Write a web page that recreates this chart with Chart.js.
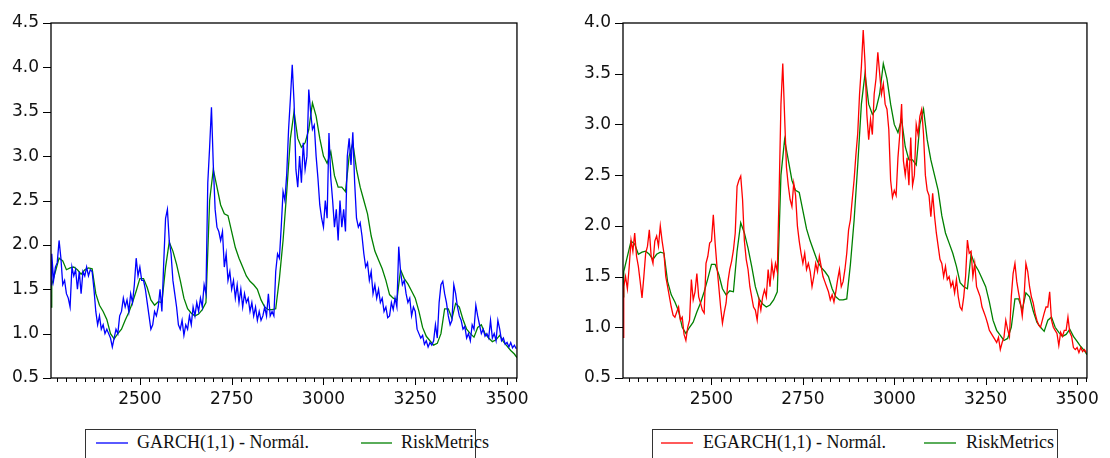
<!DOCTYPE html>
<html>
<head>
<meta charset="utf-8">
<script src="https://cdn.jsdelivr.net/npm/chart.js@4.4.1/dist/chart.umd.min.js"></script>
<style>
  html, body { margin: 0; padding: 0; background: #fff; overflow: hidden; }
  body { width: 1110px; height: 458px; position: relative; }
  canvas { position: absolute; top: 0; }
  #leftChart { left: 0; }
  #rightChart { left: 560px; }
  .legend { position: absolute; top: 429px; height: 60px; border: 1px solid #333; box-sizing: border-box;
            font-family: "Liberation Serif", "Times New Roman", serif; font-size: 18px; color: #111; }
  .legend svg { position: absolute; top: 10px; width: 34px; height: 6px; }
  .legend .tx { position: absolute; top: 3px; line-height: 18px; white-space: nowrap; }
</style>
</head>
<body>
<canvas id="leftChart" width="540" height="420"></canvas>
<canvas id="rightChart" width="550" height="420"></canvas>

<div class="legend" style="left:85px; width:391px;">
  <svg style="left:9px;"><line x1="1" y1="3" x2="33" y2="3" stroke="#0000ff" stroke-width="1.3"/></svg>
  <div class="tx" style="left:51px;">GARCH(1,1) - Normál.</div>
  <svg style="left:274px;"><line x1="1" y1="3" x2="32" y2="3" stroke="#008000" stroke-width="1.3"/></svg>
  <div class="tx" style="left:315px;">RiskMetrics</div>
</div>
<div class="legend" style="left:652px; width:406px;">
  <svg style="left:7px;"><line x1="1" y1="3" x2="33" y2="3" stroke="#ff0000" stroke-width="1.3"/></svg>
  <div class="tx" style="left:50px;">EGARCH(1,1) - Normál.</div>
  <svg style="left:270px;"><line x1="1" y1="3" x2="33" y2="3" stroke="#008000" stroke-width="1.3"/></svg>
  <div class="tx" style="left:313px;">RiskMetrics</div>
</div>

<script>
// observation index for the GARCH / EGARCH series (x axis)
const days = [2258,
  2260, 2265, 2270, 2275, 2280, 2285, 2290, 2295, 2300, 2305,
  2310, 2315, 2320, 2325, 2330, 2335, 2340, 2345, 2350, 2355,
  2360, 2365, 2370, 2375, 2380, 2385, 2390, 2395, 2400, 2405,
  2410, 2415, 2420, 2425, 2430, 2435, 2440, 2445, 2450, 2455,
  2460, 2465, 2470, 2475, 2480, 2485, 2490, 2495, 2500, 2505,
  2510, 2515, 2520, 2525, 2530, 2535, 2540, 2545, 2550, 2555,
  2560, 2565, 2570, 2575, 2580, 2585, 2590, 2595, 2600, 2605,
  2610, 2615, 2620, 2625, 2630, 2635, 2640, 2645, 2650, 2655,
  2660, 2665, 2670, 2675, 2680, 2685, 2690, 2695, 2700, 2705,
  2710, 2715, 2720, 2725, 2730, 2735, 2740, 2745, 2750, 2755,
  2760, 2765, 2770, 2775, 2780, 2785, 2790, 2795, 2800, 2805,
  2810, 2815, 2820, 2825, 2830, 2835, 2840, 2845, 2850, 2855,
  2860, 2865, 2870, 2875, 2880, 2885, 2890, 2895, 2900, 2905,
  2910, 2915, 2920, 2925, 2930, 2935, 2940, 2945, 2950, 2955,
  2960, 2965, 2970, 2975, 2980, 2985, 2990, 2995, 3000, 3005,
  3010, 3015, 3020, 3025, 3030, 3035, 3040, 3045, 3050, 3055,
  3060, 3065, 3070, 3075, 3080, 3085, 3090, 3095, 3100, 3105,
  3110, 3115, 3120, 3125, 3130, 3135, 3140, 3145, 3150, 3155,
  3160, 3165, 3170, 3175, 3180, 3185, 3190, 3195, 3200, 3205,
  3210, 3215, 3220, 3225, 3230, 3235, 3240, 3245, 3250, 3255,
  3260, 3265, 3270, 3275, 3280, 3285, 3290, 3295, 3300, 3305,
  3310, 3315, 3320, 3325, 3330, 3335, 3340, 3345, 3350, 3355,
  3360, 3365, 3370, 3375, 3380, 3385, 3390, 3395, 3400, 3405,
  3410, 3415, 3420, 3425, 3430, 3435, 3440, 3445, 3450, 3455,
  3460, 3465, 3470, 3475, 3480, 3485, 3490, 3495, 3500, 3505,
  3510, 3515, 3520, 3525];

// GARCH(1,1) - Normal volatility
const garch = [1.55,
  1.9, 1.6, 1.75, 1.8, 2.05, 1.85, 1.55, 1.6, 1.45, 1.4,
  1.3, 1.75, 1.65, 1.72, 1.5, 1.7, 1.45, 1.7, 1.65, 1.75,
  1.65, 1.72, 1.7, 1.5, 1.25, 1.1, 1.2, 1.05, 1.1, 1.0,
  1.05, 1.0, 0.95, 0.85, 0.95, 1.05, 1.0, 1.2, 1.25, 1.4,
  1.3, 1.38, 1.25, 1.45, 1.35, 1.55, 1.85, 1.65, 1.75, 1.6,
  1.6, 1.5, 1.35, 1.2, 1.05, 1.1, 1.25, 1.2, 1.3, 1.5,
  1.25, 1.8, 2.3, 2.4, 2.05, 1.9, 1.6, 1.45, 1.3, 1.1,
  1.05, 1.15, 0.98, 1.1, 1.05, 1.2, 1.1, 1.3, 1.2, 1.35,
  1.25, 1.4, 1.3, 1.55, 1.45, 2.7, 3.1, 3.55, 2.9, 2.4,
  2.2, 2.15, 2.05, 2.15, 1.75, 1.9, 1.6, 1.7, 1.5, 1.6,
  1.4, 1.55, 1.35, 1.5, 1.3, 1.45, 1.35, 1.4, 1.25, 1.35,
  1.2, 1.3, 1.15, 1.25, 1.15, 1.2, 1.3, 1.2, 1.45, 1.2,
  1.25, 1.2, 1.7, 1.9, 1.85, 2.2, 2.6, 2.5, 2.8, 3.3,
  3.65, 4.03, 3.6, 2.85, 2.65, 3.0, 2.7, 3.15, 2.85, 3.0,
  3.75, 3.5, 3.3, 3.35, 3.0, 2.75, 2.45, 2.3, 2.2, 2.5,
  2.3, 3.26, 2.75, 2.5, 2.2, 2.4, 2.05, 2.5, 2.2, 2.4,
  2.15, 3.0, 3.2, 2.9, 3.27, 2.7, 2.3, 2.2, 2.25, 2.1,
  1.9, 1.75, 1.8, 1.6, 1.7, 1.45, 1.55, 1.4, 1.5, 1.35,
  1.4, 1.25, 1.3, 1.18, 1.2, 1.35, 1.27, 1.4, 1.3, 1.98,
  1.7, 1.55, 1.6, 1.45, 1.35, 1.4, 1.2, 1.3, 1.25, 1.05,
  1.0, 0.95, 0.98, 0.88, 0.92, 0.85, 0.9, 0.87, 0.92, 1.1,
  0.95, 1.35, 1.55, 1.59, 1.45, 1.35, 1.2, 1.1, 1.15, 1.55,
  1.45, 1.3, 1.2, 1.15, 1.05, 1.08, 0.95, 1.0, 0.92, 1.1,
  1.05, 1.32, 1.2, 1.1, 1.0, 1.05, 0.97, 1.0, 0.95, 1.15,
  0.95, 1.0, 0.92, 1.15, 1.05, 0.92, 0.95, 0.88, 0.9, 0.85,
  0.9, 0.84, 0.87, 0.83];

// EGARCH(1,1) - Normal volatility
const egarch = [0.9,
  1.4, 1.5, 1.38, 1.6, 1.86, 1.75, 1.93, 1.7, 1.6, 1.45,
  1.29, 1.5, 1.73, 1.8, 1.96, 1.7, 1.63, 1.85, 1.9, 1.8,
  2.0, 1.85, 1.73, 1.5, 1.4, 1.3, 1.2, 1.12, 1.1, 1.15,
  1.2, 1.07, 1.1, 0.93, 0.87, 1.0, 1.07, 1.47, 1.27, 1.35,
  1.53, 1.3, 1.24, 1.17, 1.14, 1.63, 1.7, 1.83, 1.85, 2.11,
  1.83, 1.6, 1.4, 1.2, 1.04, 1.15, 1.24, 1.45, 1.57, 1.65,
  1.76, 1.93, 2.39, 2.45, 2.49, 2.26, 1.85, 1.67, 1.57, 1.4,
  1.3, 1.2, 1.17, 1.07, 1.27, 1.17, 1.3, 1.37, 1.3, 1.57,
  1.4, 1.63, 1.5, 1.63, 1.55, 2.32, 3.2, 3.6, 3.08, 2.58,
  2.4, 2.26, 2.19, 2.42, 2.3, 2.0, 1.85, 1.73, 1.63, 1.73,
  1.57, 1.63, 1.55, 1.4, 1.5, 1.63, 1.55, 1.7, 1.6, 1.5,
  1.45, 1.4, 1.35, 1.27, 1.32, 1.25, 1.35, 1.47, 1.57, 1.4,
  1.45, 1.57, 1.73, 1.96, 2.06, 2.26, 2.45, 2.7, 2.91, 3.3,
  3.57, 3.93, 3.6, 3.1, 2.85, 3.05, 2.9, 3.3, 3.45, 3.71,
  3.5, 3.3, 3.4, 3.2, 3.15, 2.95, 2.45, 2.28, 2.35, 2.3,
  2.67, 2.9, 3.2, 2.64, 2.5, 2.67, 2.4, 2.87, 2.4, 2.5,
  3.0, 2.9, 3.08, 3.15, 2.9, 2.5, 2.35, 2.3, 2.09, 2.32,
  2.1, 1.93, 1.8, 1.67, 1.63, 1.5, 1.6, 1.47, 1.5, 1.4,
  1.45, 1.34, 1.47, 1.3, 1.2, 1.17, 1.3, 1.5, 1.86, 1.73,
  1.75, 1.5, 1.63, 1.4, 1.35, 1.3, 1.2, 1.15, 1.1, 1.04,
  0.97, 0.94, 0.91, 0.88, 0.85, 0.9, 0.78, 0.85, 0.9, 1.07,
  0.98, 0.91, 1.3, 1.53, 1.63, 1.45, 1.34, 1.24, 1.11, 1.3,
  1.63, 1.55, 1.4, 1.3, 1.24, 1.14, 1.07, 1.02, 1.0, 1.07,
  1.14, 1.2, 1.2, 1.35, 1.07, 1.0, 0.97, 0.94, 0.82, 0.95,
  0.91, 0.97, 0.97, 1.1, 0.95, 0.91, 0.8, 0.78, 0.8, 0.75,
  0.8, 0.76, 0.78, 0.75];

// observation index for the RiskMetrics series
const rmDays = [2258,
  2260, 2270, 2280, 2290, 2300, 2310, 2320, 2330, 2340, 2350,
  2360, 2370, 2380, 2390, 2400, 2410, 2420, 2430, 2440, 2450,
  2460, 2470, 2480, 2490, 2500, 2510, 2520, 2530, 2540, 2550,
  2560, 2570, 2580, 2590, 2600, 2610, 2620, 2630, 2640, 2650,
  2660, 2670, 2680, 2690, 2700, 2710, 2720, 2730, 2740, 2750,
  2760, 2770, 2780, 2790, 2800, 2810, 2820, 2830, 2840, 2850,
  2860, 2870, 2880, 2890, 2900, 2910, 2920, 2930, 2940, 2950,
  2960, 2970, 2980, 2990, 3000, 3010, 3020, 3030, 3040, 3050,
  3060, 3070, 3080, 3090, 3100, 3110, 3120, 3130, 3140, 3150,
  3160, 3170, 3180, 3190, 3200, 3210, 3220, 3230, 3240, 3250,
  3260, 3270, 3280, 3290, 3300, 3310, 3320, 3330, 3340, 3350,
  3360, 3370, 3380, 3390, 3400, 3410, 3420, 3430, 3440, 3450,
  3460, 3470, 3480, 3490, 3500, 3510, 3520,
  3527];

// RiskMetrics volatility (same in both panels)
const riskMetrics = [1.3,
  1.55, 1.7, 1.85, 1.82, 1.72, 1.74, 1.75, 1.72, 1.67, 1.72,
  1.74, 1.73, 1.45, 1.32, 1.25, 1.16, 1.0, 0.94, 1.0, 1.05,
  1.15, 1.24, 1.35, 1.48, 1.62, 1.62, 1.52, 1.38, 1.32, 1.36,
  1.35, 1.75, 2.03, 1.93, 1.78, 1.6, 1.4, 1.28, 1.23, 1.2,
  1.22, 1.27, 1.35, 2.5, 2.85, 2.65, 2.45, 2.35, 2.33, 2.15,
  1.97, 1.85, 1.75, 1.65, 1.59, 1.55, 1.5, 1.38, 1.3, 1.27,
  1.27, 1.28, 1.62, 2.05, 2.6, 3.2, 3.5, 3.2, 3.1, 3.15,
  3.3, 3.6, 3.45, 3.2, 3.0, 2.92, 3.05, 2.78, 2.65, 2.65,
  2.6, 3.0, 3.15, 2.85, 2.65, 2.5, 2.35, 2.1, 1.93, 1.83,
  1.73, 1.6, 1.44, 1.4, 1.38, 1.72, 1.62, 1.56, 1.48, 1.4,
  1.25, 1.07, 0.97, 0.92, 0.87, 0.89, 1.0, 1.28, 1.28, 1.17,
  1.34, 1.3, 1.16, 1.05, 1.0, 0.96, 1.07, 1.1, 1.0, 0.95,
  0.91, 0.93, 0.98, 0.91, 0.86, 0.81, 0.77,
  0.73];

// labelled x ticks
const dayTicks = [2500, 2750, 3000, 3250, 3500];

const toPoints = (xs, vals) => xs.map((d, i) => ({ x: d, y: vals[i] }));

// box around the plot area plus outward tick marks
const framePlugin = {
  id: 'frame',
  afterDraw(chart) {
    const { ctx, chartArea: a, scales: { x, y } } = chart;
    ctx.save();
    ctx.strokeStyle = '#000';
    ctx.lineWidth = 1.3;
    ctx.strokeRect(a.left, a.top, a.right - a.left, a.bottom - a.top);
    ctx.lineWidth = 1;
    ctx.beginPath();
    for (let v = Math.ceil(x.min / 25) * 25; v <= x.max; v += 25) {
      const px = Math.round(x.getPixelForValue(v)) + 0.5;
      ctx.moveTo(px, a.bottom);
      ctx.lineTo(px, a.bottom + (v % 250 === 0 ? 7 : 4));
    }
    y.ticks.forEach(t => {
      const py = Math.round(y.getPixelForValue(t.value)) + 0.5;
      ctx.moveTo(a.left - 8, py);
      ctx.lineTo(a.left, py);
    });
    ctx.stroke();
    ctx.restore();
  }
};

const tickFont = { family: 'DejaVu Sans', size: 17 };

function makeChart(id, label, color, vals, yMax, yWidth, padRight) {
  new Chart(document.getElementById(id), {
    type: 'line',
    data: {
      datasets: [
        { label: label, data: toPoints(days, vals), borderColor: color, borderWidth: 1.3,
          pointRadius: 0, tension: 0, fill: false },
        { label: 'RiskMetrics', data: toPoints(rmDays, riskMetrics), borderColor: '#008000', borderWidth: 1.3,
          pointRadius: 0, tension: 0, fill: false },
      ],
    },
    options: {
      responsive: false,
      animation: false,
      devicePixelRatio: 1,
      layout: { padding: { top: 23, right: padRight, left: 0, bottom: 0 } },
      plugins: { legend: { display: false }, tooltip: { enabled: false } },
      scales: {
        x: {
          type: 'linear',
          min: 2258,
          max: 3527,
          grid: { display: false, drawTicks: false },
          border: { display: false },
          afterBuildTicks: axis => { axis.ticks = dayTicks.map(v => ({ value: v })); },
          afterFit: axis => { axis.height = 42; },
          ticks: { font: tickFont, color: '#111', padding: 11, maxRotation: 0, autoSkip: false,
                   callback: v => String(v) },
        },
        y: {
          min: 0.5,
          max: yMax,
          grid: { display: false, drawTicks: false },
          border: { display: false },
          afterFit: axis => { axis.width = yWidth; },
          ticks: { stepSize: 0.5, font: tickFont, color: '#111', padding: 12,
                   callback: v => Number(v).toFixed(1) },
        },
      },
    },
    plugins: [framePlugin],
  });
}

makeChart('leftChart', 'GARCH(1,1) - Normál.', '#0000ff', garch, 4.5, 51, 15);
makeChart('rightChart', 'EGARCH(1,1) - Normál.', '#ff0000', egarch, 4.0, 63, 13);
</script>
</body>
</html>
